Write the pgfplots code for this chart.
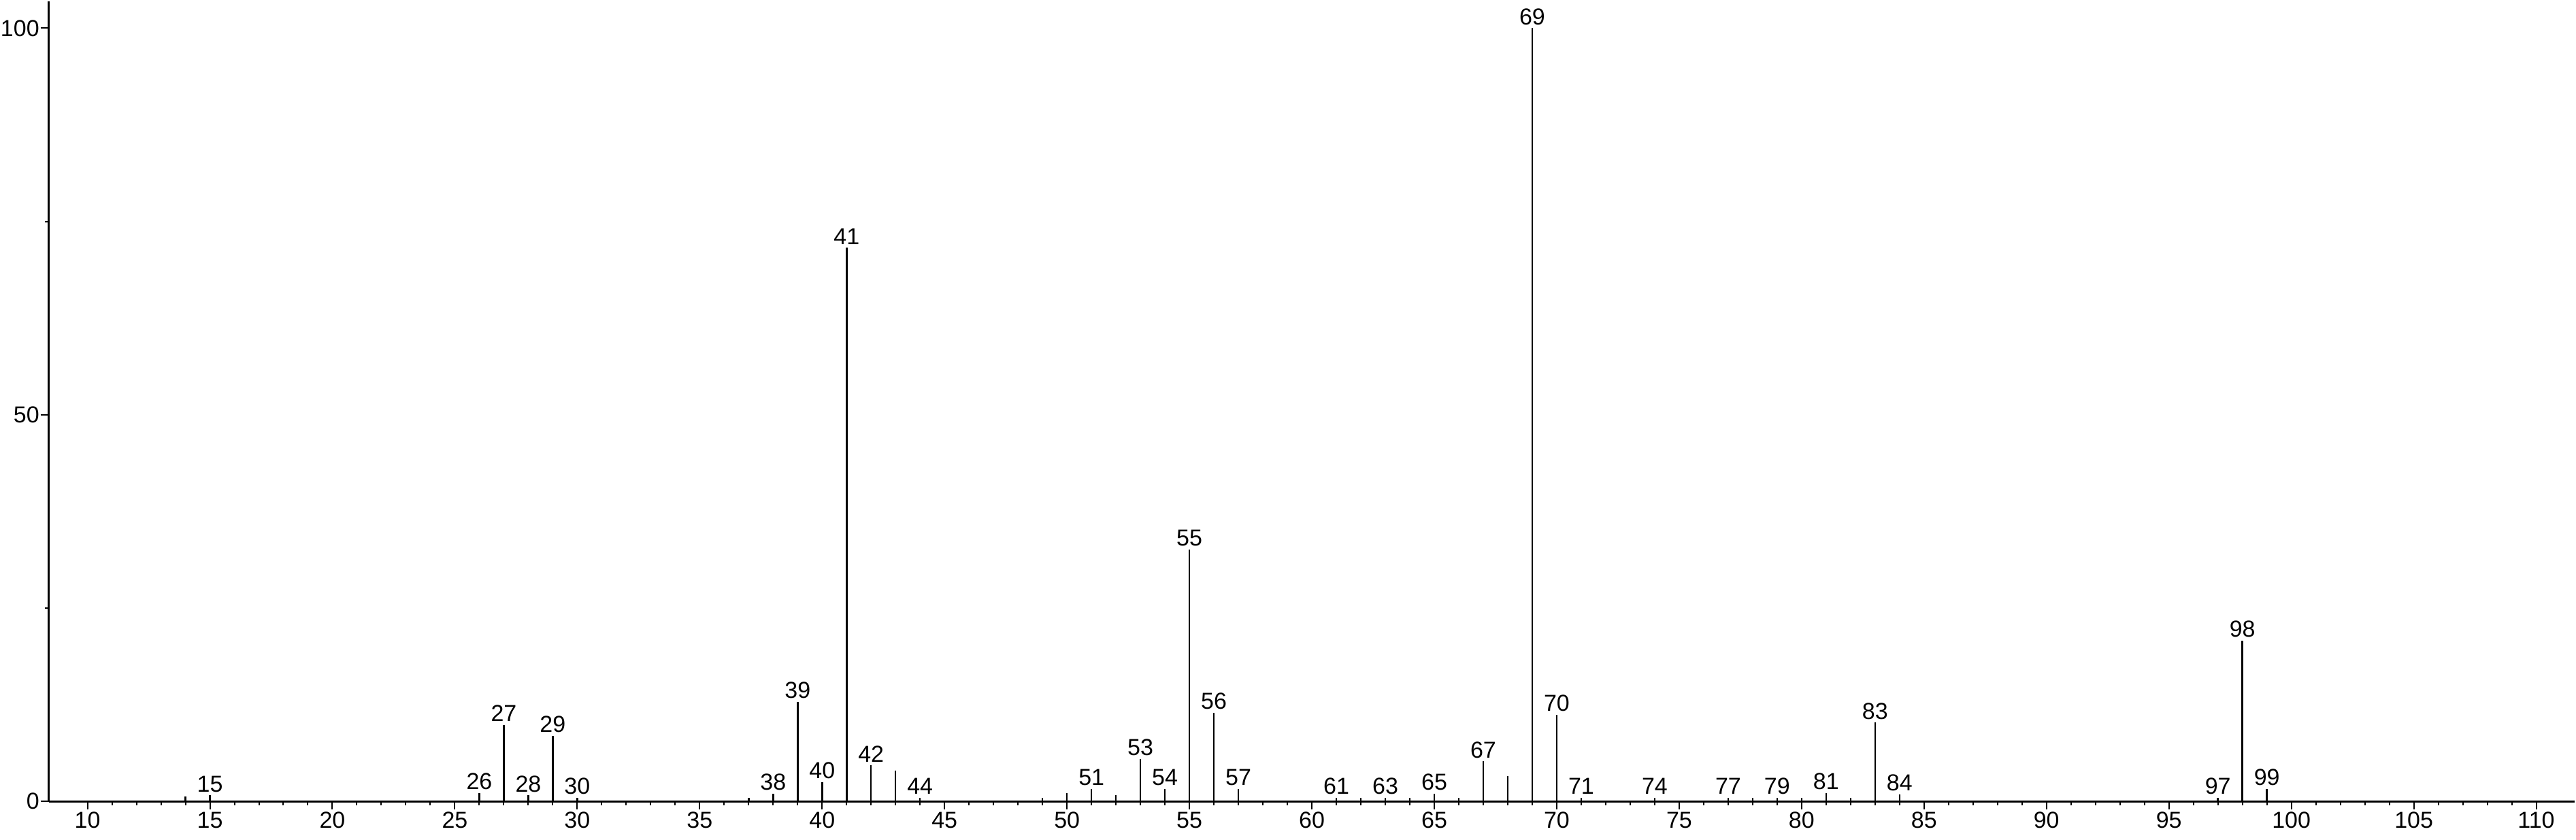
\documentclass[border=0pt]{standalone}
\usepackage{fontspec}
\setmainfont{Liberation Sans}
\usepackage{pgfplots}
\pgfplotsset{compat=1.18}
\begin{document}
\begin{tikzpicture}
\begin{axis}[
  scale only axis,
  width=743.4pt, height=235.6pt,
  xmin=8.418, xmax=111.58,
  ymin=0, ymax=103.5,
  axis lines=left,
  axis line style={-, line width=0.65pt, black},
  tick align=outside,
  major tick length=2.4pt,
  minor tick length=1.2pt,
  every tick/.style={black, line width=0.4pt},
  xtick={10,15,...,110},
  minor x tick num=4,
  ytick={0,50,100},
  minor y tick num=1,
  /pgf/number format/assume math mode=true,
  tick label style={font=\fontsize{6.8}{8}\selectfont},
  xticklabel style={yshift=2.8pt},
  yticklabel style={inner xsep=0.2pt},
  clip=false,
]
% labelled peaks
\addplot[ycomb, black, line width=0.5pt,
  point meta=explicit symbolic,
  nodes near coords,
  every node near coord/.append style={font=\fontsize{6.8}{8}\selectfont, anchor=south, inner sep=0pt, yshift=0.7pt}]
coordinates {
(15,0.8) [15]
(26,1.1) [26]
(27,9.9) [27]
(28,0.8) [28]
(29,8.5) [29]
(30,0.5) [30]
(38,1.0) [38]
(39,12.9) [39]
(40,2.5) [40]
(41,71.6) [41]
(42,4.7) [42]
(44,0.5) [44]
(51,1.6) [51]
(53,5.5) [53]
(54,1.6) [54]
(55,32.6) [55]
(56,11.5) [56]
(57,1.6) [57]
(61,0.5) [61]
(63,0.5) [63]
(65,1.0) [65]
(67,5.2) [67]
(69,100) [69]
(70,11.2) [70]
(71,0.5) [71]
(74,0.5) [74]
(77,0.5) [77]
(79,0.5) [79]
(81,1.1) [81]
(83,10.2) [83]
(84,0.9) [84]
(97,0.5) [97]
(98,20.8) [98]
(99,1.6) [99]
};
% unlabelled peaks
\addplot[ycomb, black, line width=0.5pt] coordinates {
(14,0.6) (37,0.5) (43,4.0) (49,0.5) (50,1.1) (52,0.8)
(62,0.5) (64,0.5) (66,0.5) (68,3.3) (78,0.5) (80,0.5) (82,0.5)
};
\end{axis}
\end{tikzpicture}
\end{document}
